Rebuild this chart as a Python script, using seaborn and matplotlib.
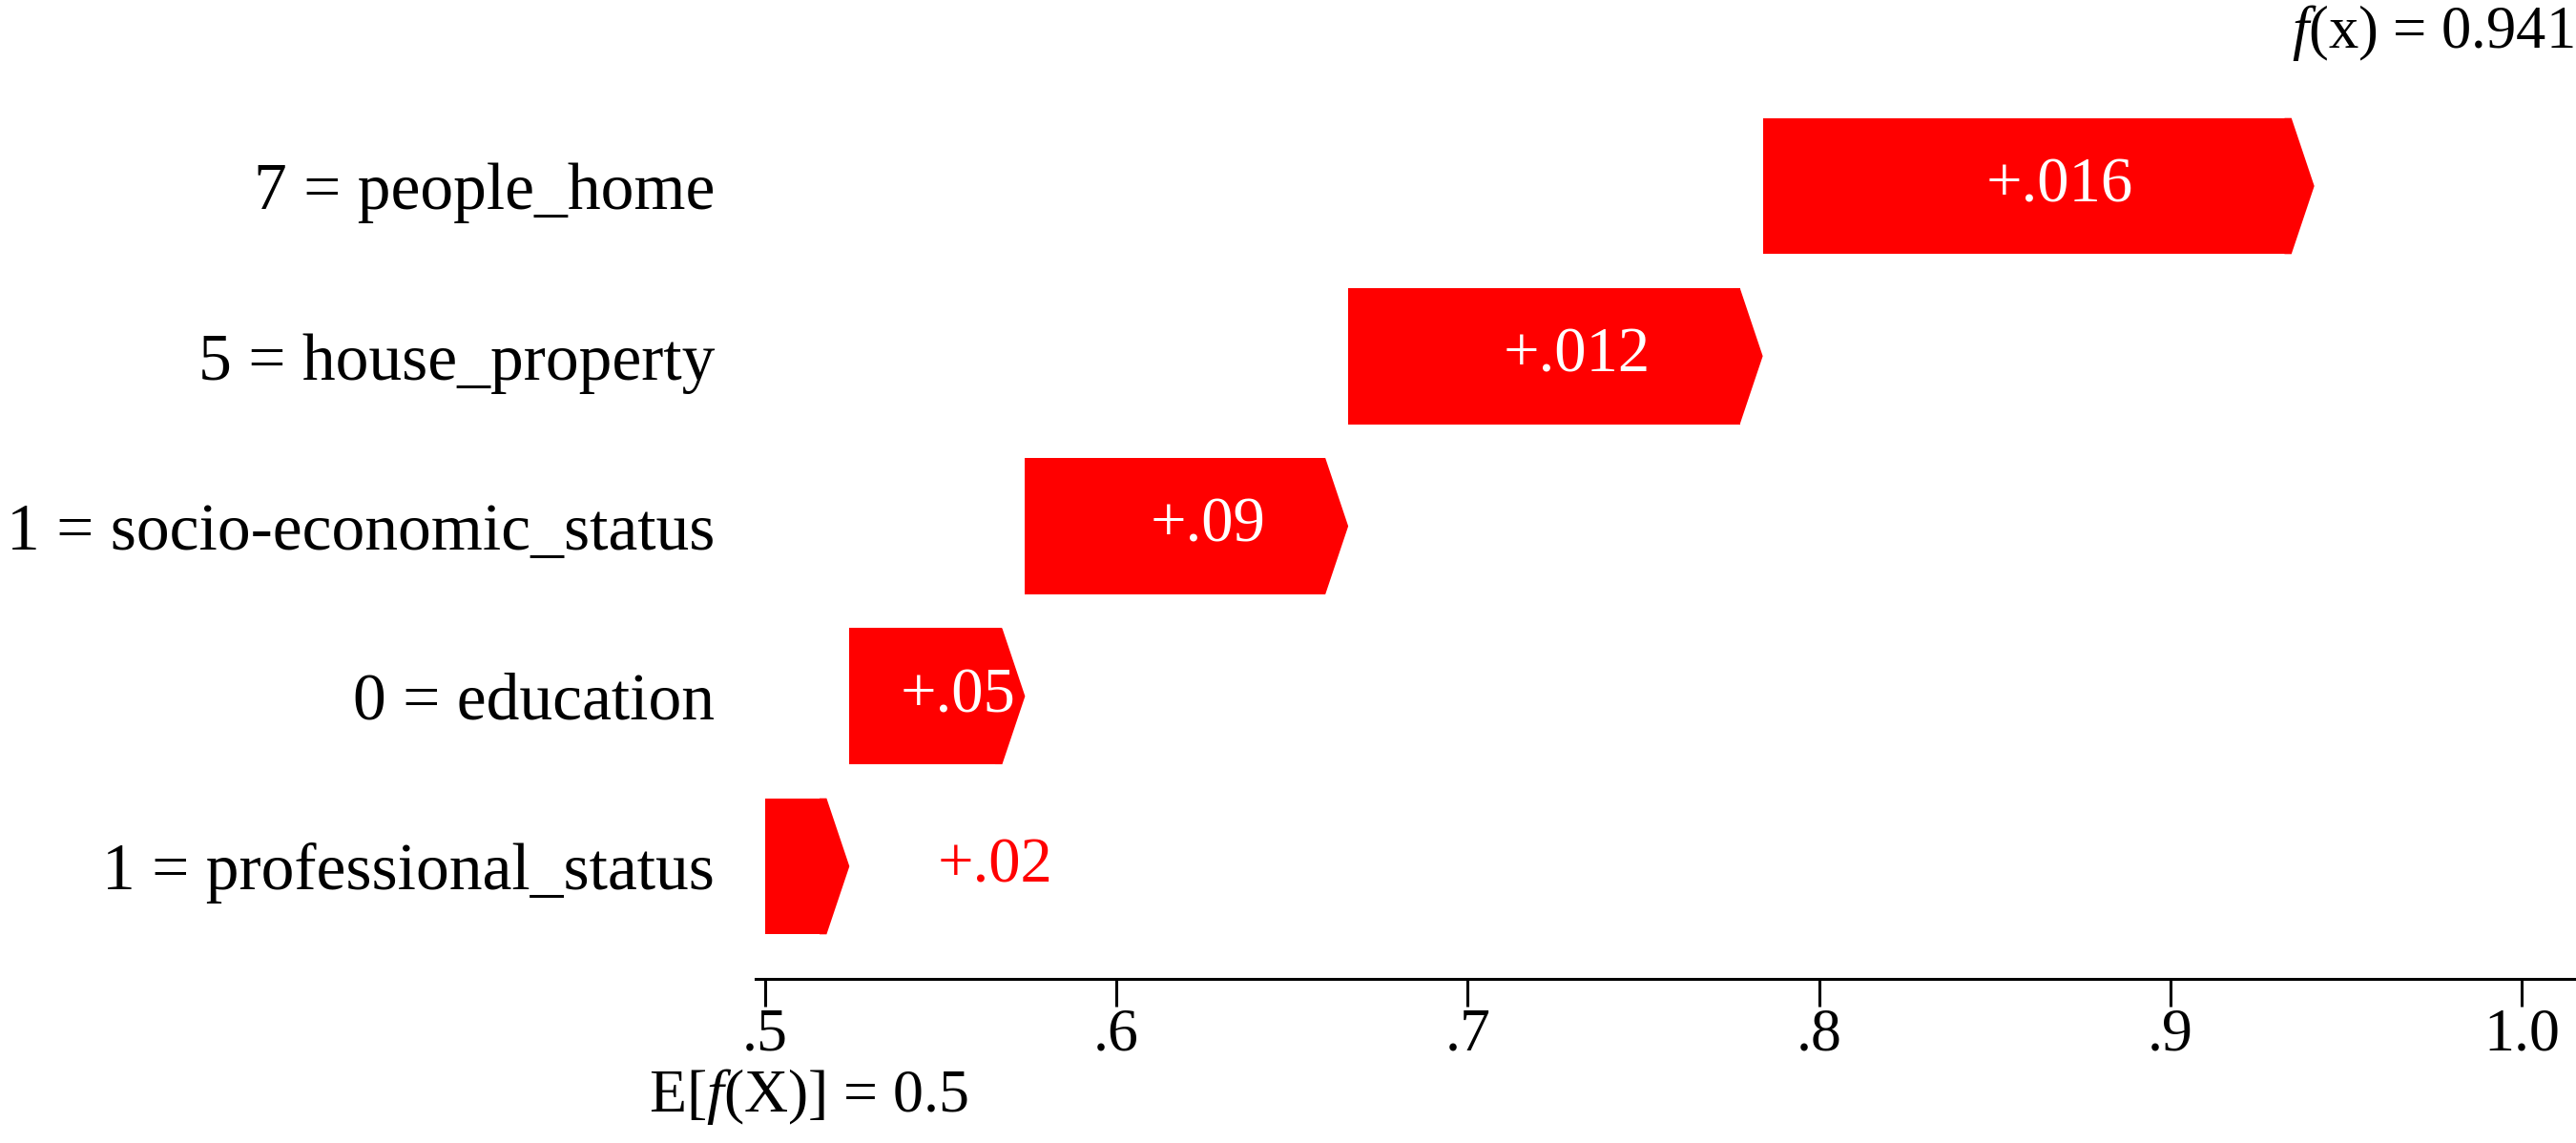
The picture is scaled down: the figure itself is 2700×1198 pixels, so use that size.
import matplotlib
matplotlib.use("Agg")
import matplotlib.pyplot as plt
import numpy as np
import pandas as pd
import seaborn as sns

# values (top to bottom)
features = ["7 = people_home", "5 = house_property", "1 = socio-economic_status",
            "0 = education", "1 = professional_status"]
contrib = [0.157, 0.118, 0.092, 0.050, 0.024]
bar_text = ["+.016", "+.012", "+.09", "+.05", "+.02"]
base_value = 0.5
fx = 0.941
x_ticks = [0.5, 0.6, 0.7, 0.8, 0.9, 1.0]
x_tick_labels = [".5", ".6", ".7", ".8", ".9", "1.0"]

RED = "#ff0000"

sns.set_style("white")
plt.rcParams["font.family"] = ["Liberation Serif", "DejaVu Serif"]
plt.rcParams["mathtext.fontset"] = "custom"
plt.rcParams["mathtext.rm"] = "Liberation Serif"
plt.rcParams["mathtext.it"] = "Liberation Serif:italic"
plt.rcParams["text.color"] = "black"
plt.rcParams["xtick.color"] = "black"
plt.rcParams["ytick.color"] = "black"

# cumulative positions, stacked from the bottom bar upwards
ends = base_value + np.cumsum(contrib[::-1])[::-1]
starts = ends - np.array(contrib)
df = pd.DataFrame({"feature": features, "start": starts, "end": ends})

W, H = 2700, 1198
fig = plt.figure(figsize=(W / 100, H / 100), dpi=100)
ax = fig.add_axes([792 / W, (H - 1026) / H, 1908 / W, 949 / H])

sns.barplot(data=df, x="end", y="feature", color=RED, saturation=1,
            width=0.8, orient="h", linewidth=0, ax=ax)

# turn each bar into an arrow: body from the bar, head added on its end
head = 0.0065
for patch, (_, row) in zip(ax.patches, df.iterrows()):
    y0, h = patch.get_y(), patch.get_height()
    patch.set_x(row.start)
    patch.set_width(row.end - head - row.start)
    ax.fill([row.end - head - 0.002, row.end - head, row.end,
             row.end - head, row.end - head - 0.002],
            [y0, y0, y0 + h / 2, y0 + h, y0 + h], color=RED, lw=0)

for i, row in df.iterrows():
    if contrib[i] > 0.04:
        ax.text((row.start + row.end) / 2 + 0.006, i, bar_text[i], color="white",
                ha="center", va="center", fontsize=48)
    else:
        ax.text(row.end + 0.025, i, bar_text[i], color=RED,
                ha="left", va="center", fontsize=48)

ax.set_xlim(0.4973, 1.0155)
ax.set_ylim(4.662, -0.662)
ax.set_xticks(x_ticks)
ax.set_xticklabels(x_tick_labels)
ax.set_xlabel("")
ax.set_ylabel("")
ax.tick_params(axis="y", length=0, pad=31, labelsize=50)
ax.tick_params(axis="x", length=21, width=2.2, pad=1, labelsize=46,
               direction="out", bottom=True)
for s in ["left", "top", "right"]:
    ax.spines[s].set_visible(False)
ax.spines["bottom"].set_linewidth(2.2)
ax.spines["bottom"].set_color("black")

ax.annotate("E[$f$(X)] = 0.5", xy=(base_value, 0),
            xycoords=("data", "axes fraction"), xytext=(33, -89),
            textcoords="offset points", ha="center", va="center", fontsize=46)
fig.text(0.999, 1 - 34 / H, "$f$(x) = %.3f" % fx, ha="right", va="center",
         fontsize=45)

fig.savefig("out.png", dpi=100)
